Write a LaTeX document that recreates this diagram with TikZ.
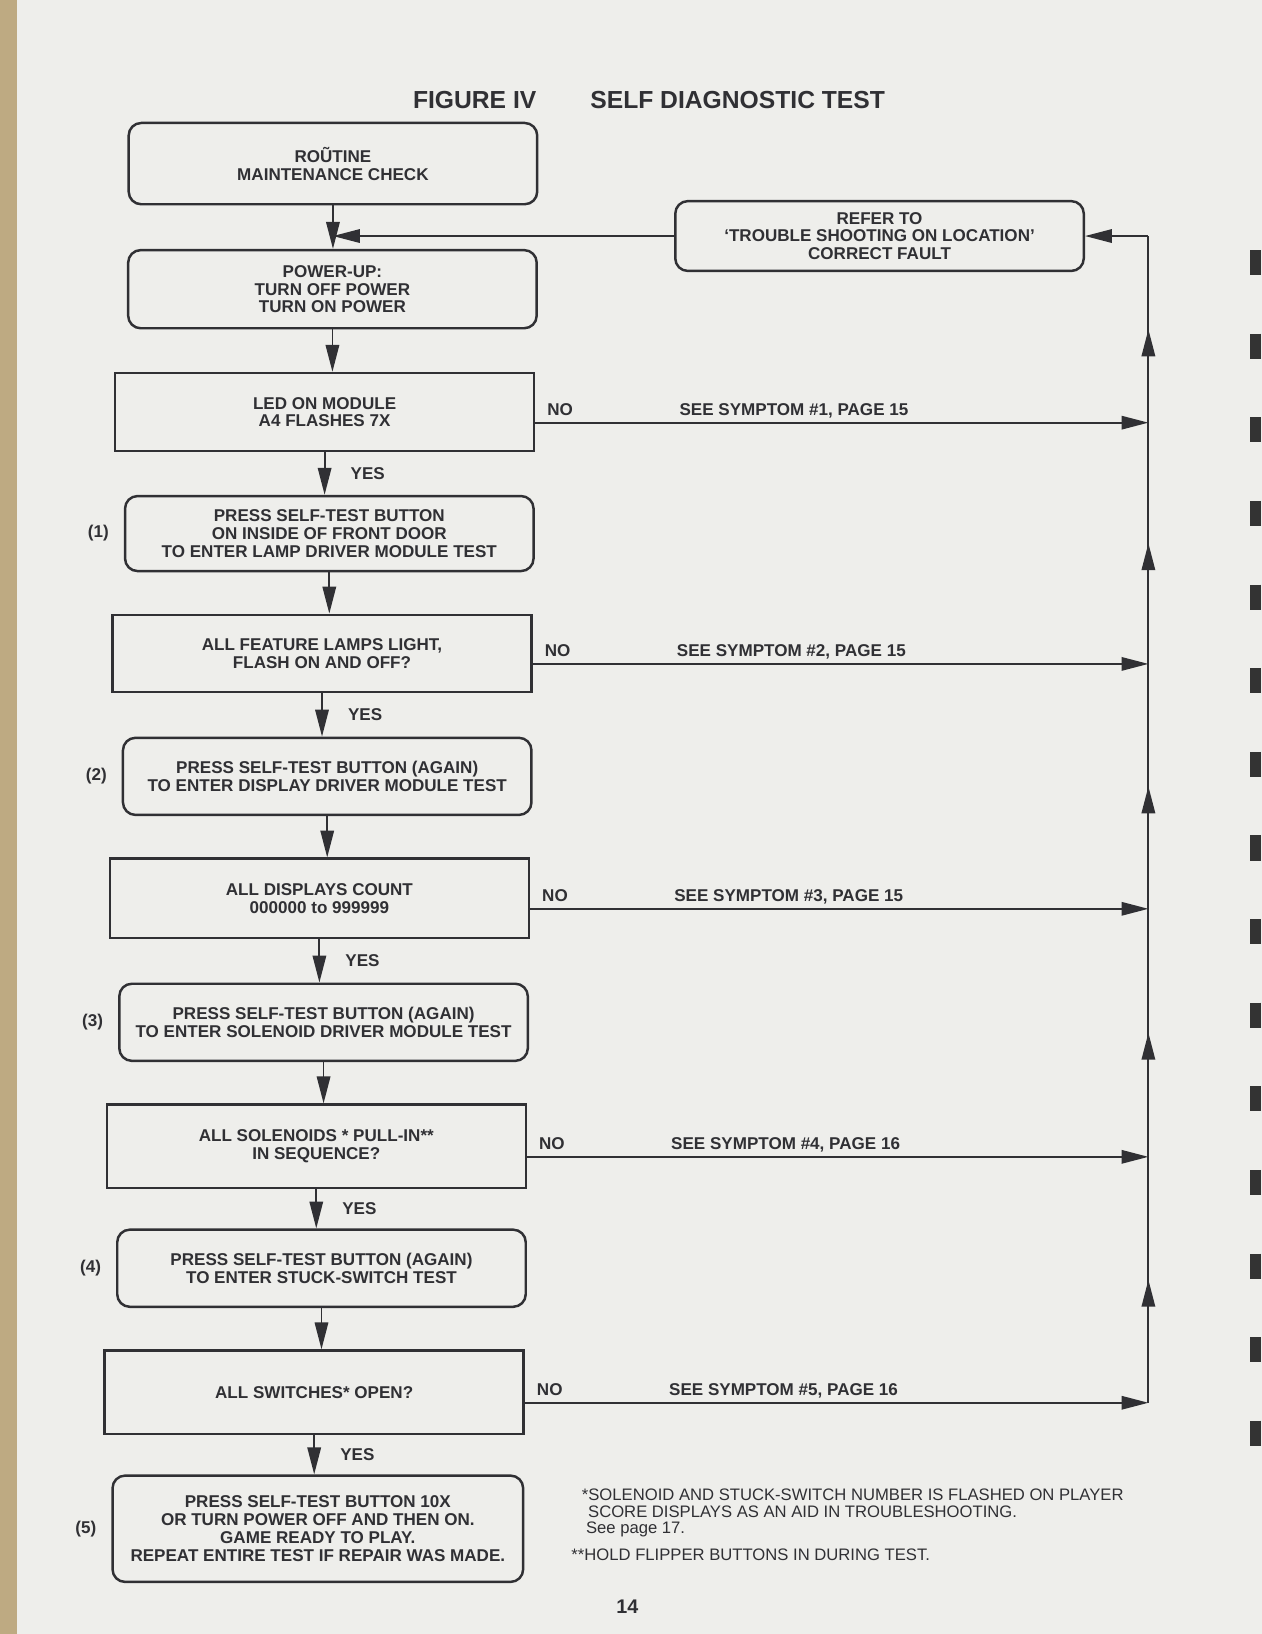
\documentclass[tikz,border=0pt]{standalone}
\usepackage{fontspec}
\setmainfont{Liberation Sans}
\usetikzlibrary{arrows.meta,positioning,decorations.markings}

\newlength\dpx
\setlength\dpx{0.017828cm}
\definecolor{paper}{RGB}{238,238,235}
\definecolor{ink}{RGB}{48,48,52}
\definecolor{edge}{RGB}{190,170,130}
\newcommand\boxfont{\fontsize{8.3}{8.7}\selectfont\bfseries}
\newcommand\notefont{\fontsize{8.1}{9}\selectfont}

\tikzset{
  actbox/.style={draw=ink, line width=1.2pt, rounded corners=0.214cm,
    minimum width=392\dpx, minimum height=74\dpx, inner sep=0pt,
    align=center, font=\boxfont, text=ink},
  testbox/.style={actbox, sharp corners, minimum width=402\dpx, minimum height=76\dpx},
  flow/.style={draw=ink, line width=0.9pt, -{Triangle[length=0.46cm,width=0.23cm]}},
  rail/.style={draw=ink, line width=0.9pt, postaction={decorate},
    decoration={markings, mark=at position 0.5 with {\arrow{Triangle[length=0.46cm,width=0.23cm]}}}},
  lbl/.style={font=\boxfont, text=ink, inner sep=0pt, anchor=base west},
  yes/.style={font=\boxfont, text=ink, inner sep=0pt, right, xshift=0.43cm},
  num/.style={font=\boxfont, text=ink, inner sep=0pt},
  note/.style={font=\notefont, text=ink, inner sep=0pt, anchor=base west},
  titletext/.style={font=\fontsize{12}{14}\selectfont\bfseries, text=ink, inner sep=0pt},
  binding/.style={draw=black!80, line width=0.18cm, dash pattern=on 0.43cm off 1cm},
}

\begin{document}
\begin{tikzpicture}[x=\dpx, y=-\dpx]
\fill[paper] (0,0) rectangle (1211,1568);
\useasboundingbox (0,0) rectangle (1211,1568);
\fill[edge] (0,0) rectangle (16,1568);
\draw[binding] (1205,240) -- (1205,1420);

% title
\node[titletext] (figlbl) at (455.5,96) {FIGURE IV};
\node[titletext, right=0.91cm of figlbl] (figname) {SELF DIAGNOSTIC TEST};

% boxes down the left
\node[actbox, minimum height=78\dpx] (routine) at (319.5,157) {ROŨTINE\\MAINTENANCE CHECK};
\node[actbox, minimum height=67\dpx] (refer) at (844,226.5) {REFER TO\\‘TROUBLE SHOOTING ON LOCATION’\\CORRECT FAULT};
\node[actbox, minimum height=75\dpx] (powerup) at (319,277.5) {POWER-UP:\\TURN OFF POWER\\TURN ON POWER};
\node[testbox, minimum height=75\dpx] (led) at (311.5,395.5) {LED ON MODULE\\A4 FLASHES 7X};
\node[actbox, minimum height=72\dpx] (lamptest) at (316,512) {PRESS SELF-TEST BUTTON\\ON INSIDE OF FRONT DOOR\\TO ENTER LAMP DRIVER MODULE TEST};
\node[testbox, minimum height=74\dpx] (lamps) at (309,627) {ALL FEATURE LAMPS LIGHT,\\FLASH ON AND OFF?};
\node[actbox] (disptest) at (314,745) {PRESS SELF-TEST BUTTON (AGAIN)\\TO ENTER DISPLAY DRIVER MODULE TEST};
\node[testbox] (disps) at (306.5,862) {ALL DISPLAYS COUNT\\000000 to 999999};
\node[actbox] (soltest) at (310.5,981) {PRESS SELF-TEST BUTTON (AGAIN)\\TO ENTER SOLENOID DRIVER MODULE TEST};
\node[testbox, minimum height=80\dpx] (sols) at (303.5,1100) {ALL SOLENOIDS * PULL-IN**\\IN SEQUENCE?};
\node[actbox] (swtest) at (308.5,1217) {PRESS SELF-TEST BUTTON (AGAIN)\\TO ENTER STUCK-SWITCH TEST};
\node[testbox, minimum height=80\dpx] (sws) at (301.5,1336) {ALL SWITCHES* OPEN?};
\node[actbox, minimum width=394\dpx, minimum height=102\dpx] (ready) at (305,1467) {PRESS SELF-TEST BUTTON 10X\\OR TURN POWER OFF AND THEN ON.\\GAME READY TO PLAY.\\REPEAT ENTIRE TEST IF REPAIR WAS MADE.};

% step numbers
\node[num, left=0.25cm of lamptest] (n1) {(1)};
\node[num, left=0.25cm of disptest] (n2) {(2)};
\node[num, left=0.25cm of soltest] (n3) {(3)};
\node[num, left=0.25cm of swtest] (n4) {(4)};
\node[num, left=0.25cm of ready] (n5) {(5)};

% main flow
\draw[flow] (routine.south) -- (routine.south |- powerup.north);
\draw[flow] (refer.west) -- (refer.west -| routine.south);
\draw[flow] (powerup.south) -- (powerup.south |- led.north);
\draw[flow] (led.south) -- node[yes] {YES} (led.south |- lamptest.north);
\draw[flow] (lamptest.south) -- (lamptest.south |- lamps.north);
\draw[flow] (lamps.south) -- node[yes] {YES} (lamps.south |- disptest.north);
\draw[flow] (disptest.south) -- (disptest.south |- disps.north);
\draw[flow] (disps.south) -- node[yes] {YES} (disps.south |- soltest.north);
\draw[flow] (soltest.south) -- (soltest.south |- sols.north);
\draw[flow] (sols.south) -- node[yes] {YES} (sols.south |- swtest.north);
\draw[flow] (swtest.south) -- (swtest.south |- sws.north);
\draw[flow] (sws.south) -- node[yes] {YES} (sws.south |- ready.north);

% NO branches to the return line
\coordinate (railx) at (1102,0);
\coordinate (no1) at ([yshift=-0.18cm]led.east);
\coordinate (no2) at ([yshift=-0.18cm]lamps.east);
\coordinate (no3) at ([yshift=-0.18cm]disps.east);
\coordinate (no4) at ([yshift=-0.18cm]sols.east);
\coordinate (no5) at ([yshift=-0.18cm]sws.east);
\coordinate (j1) at (no1 -| railx);
\coordinate (j2) at (no2 -| railx);
\coordinate (j3) at (no3 -| railx);
\coordinate (j4) at (no4 -| railx);
\coordinate (j5) at (no5 -| railx);
\coordinate (jt) at (refer.east -| railx);

\node[lbl] (no1lbl) at ([xshift=0.2cm,yshift=0.125cm]no1) {NO};
\node[lbl] (sym1) at ([xshift=2.46cm,yshift=0.125cm]no1) {SEE SYMPTOM \#1, PAGE 15};
\node[lbl] (no2lbl) at ([xshift=0.2cm,yshift=0.125cm]no2) {NO};
\node[lbl] (sym2) at ([xshift=2.46cm,yshift=0.125cm]no2) {SEE SYMPTOM \#2, PAGE 15};
\node[lbl] (no3lbl) at ([xshift=0.2cm,yshift=0.125cm]no3) {NO};
\node[lbl] (sym3) at ([xshift=2.46cm,yshift=0.125cm]no3) {SEE SYMPTOM \#3, PAGE 15};
\node[lbl] (no4lbl) at ([xshift=0.2cm,yshift=0.125cm]no4) {NO};
\node[lbl] (sym4) at ([xshift=2.46cm,yshift=0.125cm]no4) {SEE SYMPTOM \#4, PAGE 16};
\node[lbl] (no5lbl) at ([xshift=0.2cm,yshift=0.125cm]no5) {NO};
\node[lbl] (sym5) at ([xshift=2.46cm,yshift=0.125cm]no5) {SEE SYMPTOM \#5, PAGE 16};

\draw[flow] (no1) -- (j1);
\draw[flow] (no2) -- (j2);
\draw[flow] (no3) -- (j3);
\draw[flow] (no4) -- (j4);
\draw[flow] (no5) -- (j5);
\draw[rail] (j5) -- (j4);
\draw[rail] (j4) -- (j3);
\draw[rail] (j3) -- (j2);
\draw[rail] (j2) -- (j1);
\draw[rail] (j1) -- (jt);
\draw[flow] (jt) -- (refer.east);

% footnotes and page number
\node[note] (fn1) at (558,1440) {*SOLENOID AND STUCK-SWITCH NUMBER IS FLASHED ON PLAYER};
\node[note] (fn2) at (564,1456) {SCORE DISPLAYS AS AN AID IN TROUBLESHOOTING.};
\node[note] (fn3) at (562,1472) {See page 17.};
\node[note] (fn4) at (548,1497) {**HOLD FLIPPER BUTTONS IN DURING TEST.};
\node[num, font=\fontsize{9.6}{11}\selectfont\bfseries] (pageno) at (602,1542) {14};
\end{tikzpicture}
\end{document}
